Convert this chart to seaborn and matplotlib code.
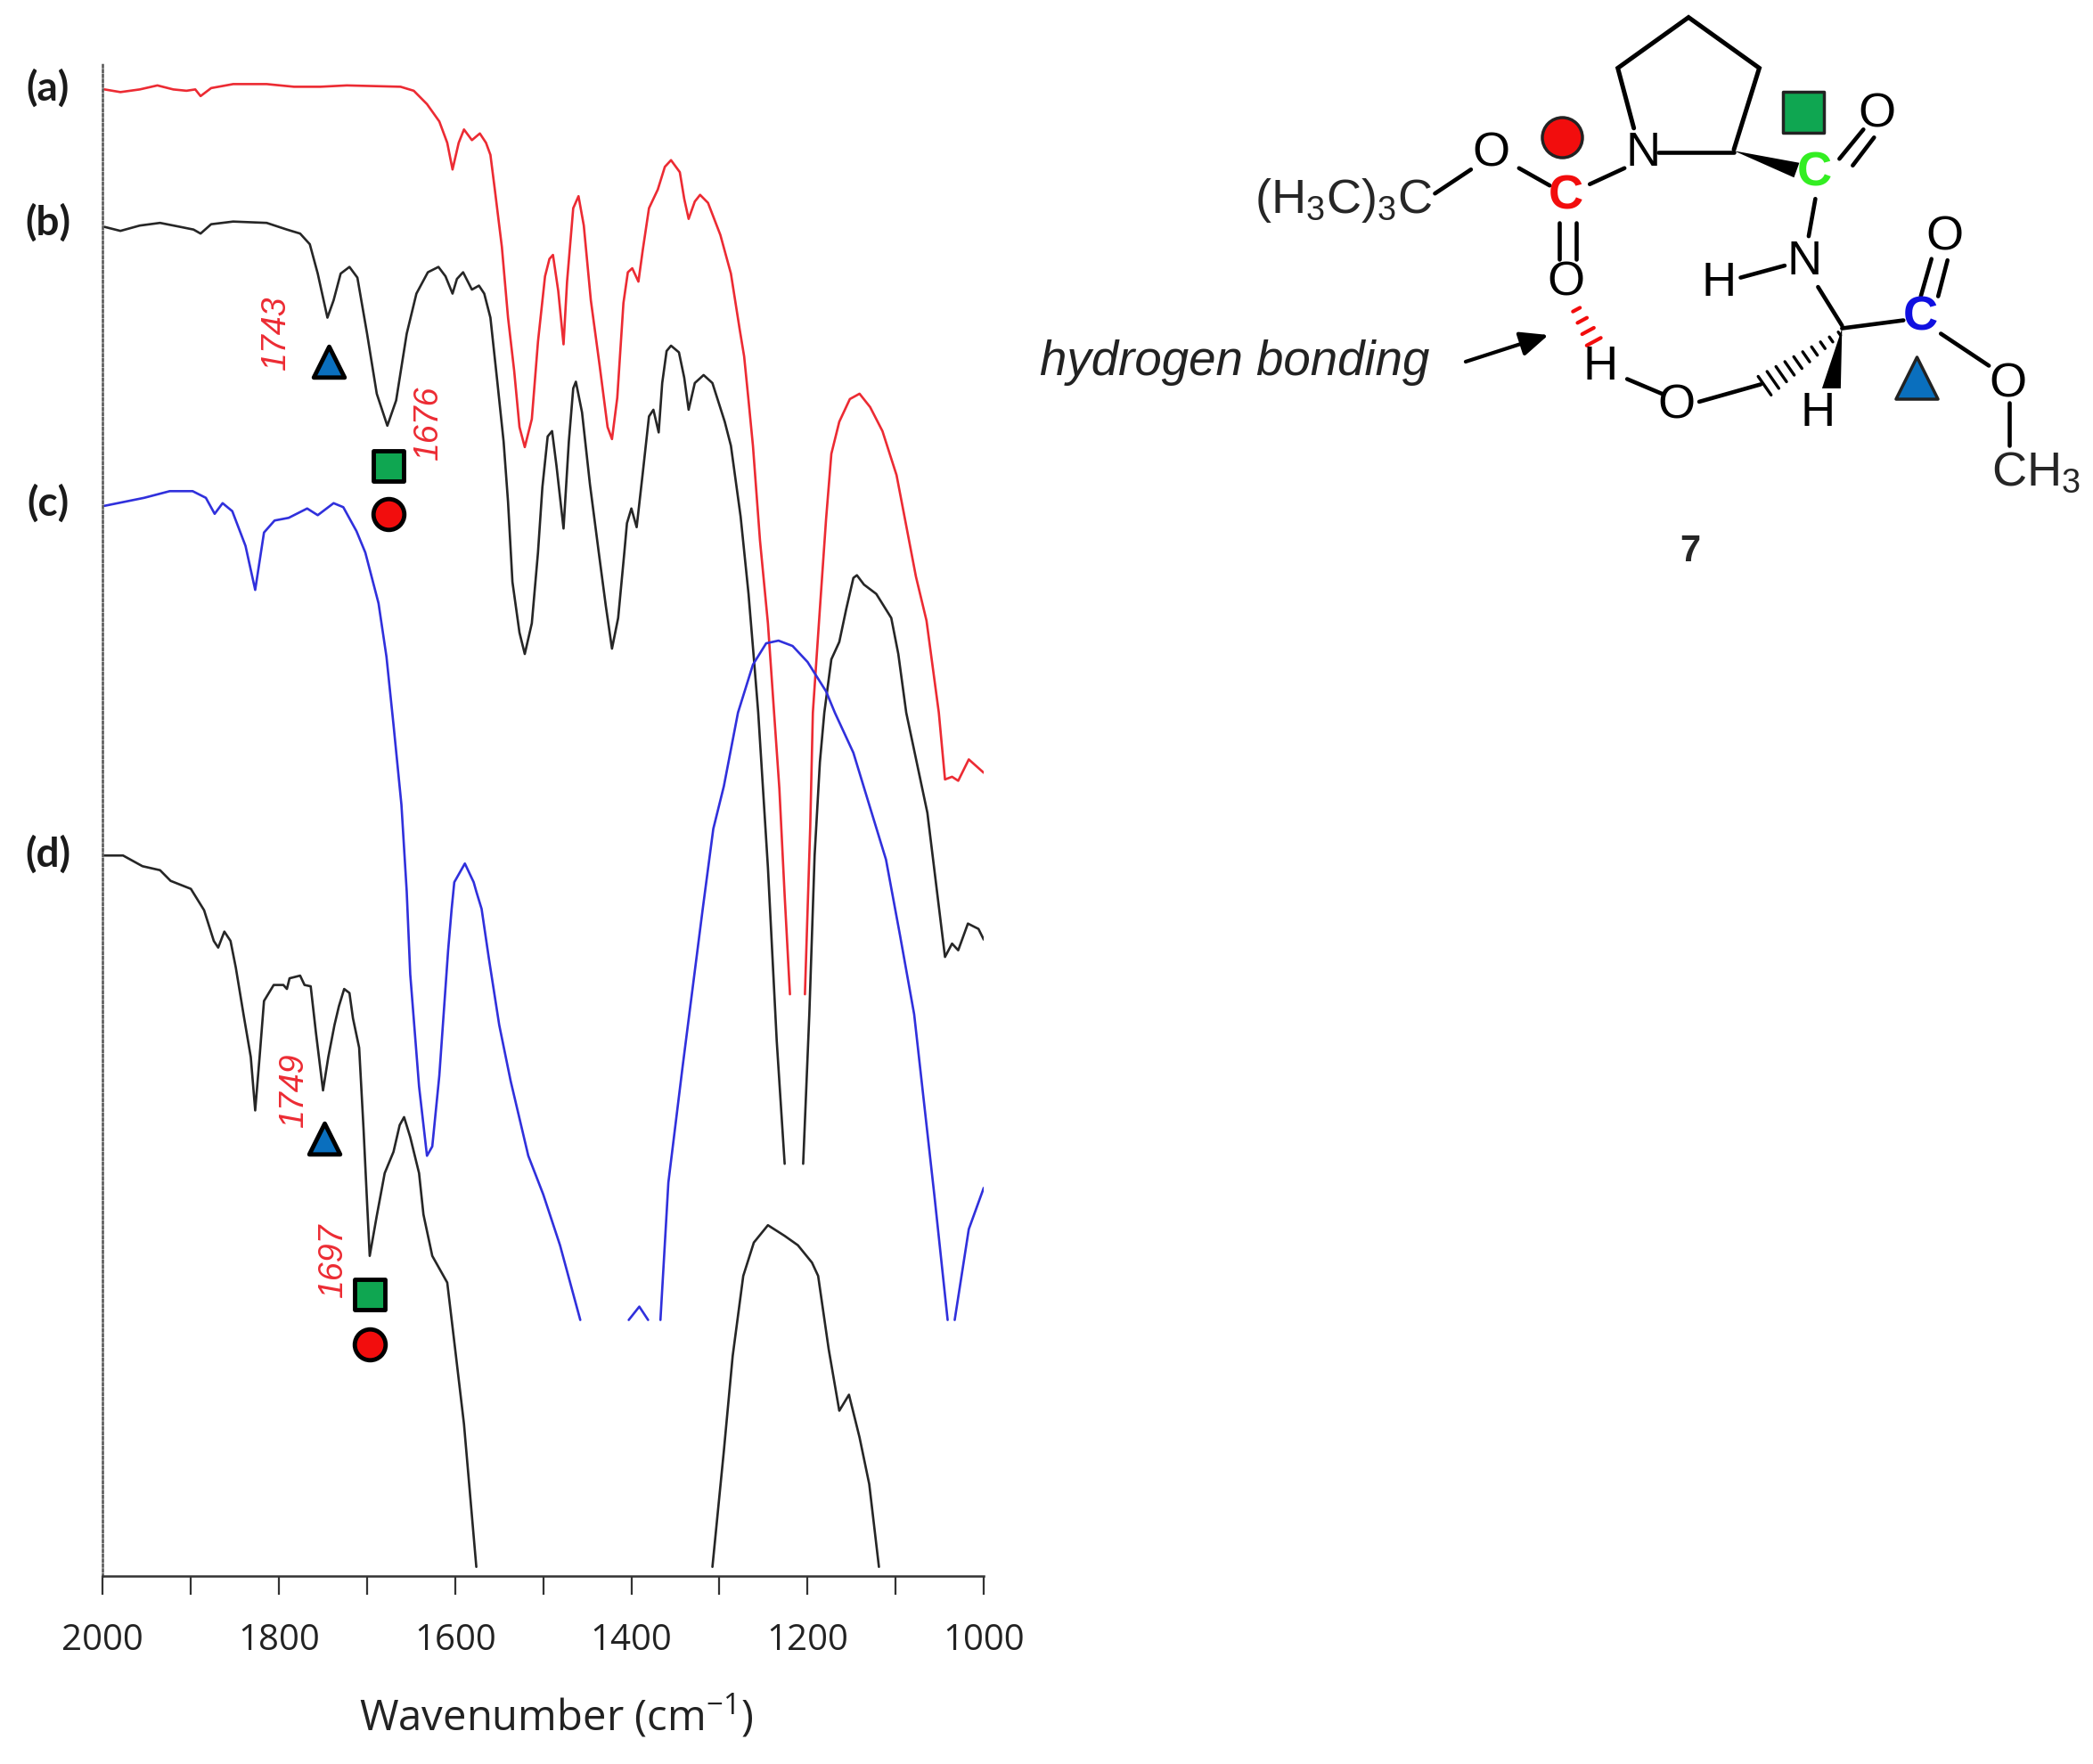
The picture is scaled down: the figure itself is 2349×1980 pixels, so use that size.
"""
FTIR spectra (a)-(d) of compound 7 with its hydrogen bonded structure.
Usage: python plot.py
"""
import matplotlib.pyplot as plt
from matplotlib.patches import Polygon
import seaborn as sns
import pandas as pd

# Traces. Strong bands are cut off, so a trace can have several parts.
a_wn_1 = [1998, 1980, 1958, 1938, 1920, 1905, 1895, 1889, 1877, 1852, 1814, 1783, 1753, 1723, 1662, 1647, 1632,
          1618, 1609, 1603, 1596, 1590, 1581, 1572, 1565, 1560, 1555, 1547, 1540, 1533, 1527, 1521, 1513, 1506,
          1498, 1493, 1489, 1483, 1477, 1473, 1466, 1460, 1454, 1446, 1436, 1427, 1422, 1416, 1409, 1404, 1399,
          1392, 1387, 1380, 1370, 1362, 1355, 1345, 1340, 1335, 1328, 1322, 1313, 1299, 1287, 1277, 1272, 1267,
          1262, 1254, 1245, 1238, 1232, 1226, 1220]
a_abs_1 = [1114, 1112, 1114, 1117, 1114, 1113, 1114, 1109, 1115, 1118, 1118, 1116, 1116, 1117, 1116, 1113, 1103,
           1090, 1074, 1054, 1074, 1084, 1076, 1081, 1074, 1065, 1039, 996, 943, 903, 861, 846, 867, 925,
           974, 987, 990, 963, 923, 970, 1025, 1034, 1012, 956, 907, 861, 852, 883, 954, 977, 980,
           970, 994, 1025, 1039, 1056, 1061, 1052, 1032, 1017, 1030, 1035, 1029, 1005, 976, 934, 914, 881,
           847, 776, 714, 647, 590, 510, 436]
a_wn_2 = [1203, 1197, 1194, 1186, 1179, 1173, 1164, 1152, 1141, 1129, 1115, 1099, 1090, 1077, 1065, 1051, 1044,
          1036, 1029, 1017, 1000]
a_abs_2 = [436, 561, 647, 725, 792, 841, 865, 882, 886, 876, 858, 825, 794, 749, 716, 647, 597,
           599, 596, 612, 602]

b_wn_1 = [1998, 1980, 1958, 1935, 1912, 1897, 1889, 1877, 1852, 1814, 1791, 1776, 1765, 1756, 1745, 1738, 1730,
          1720, 1711, 1700, 1689, 1677, 1667, 1655, 1644, 1631, 1619, 1611, 1603, 1598, 1591, 1581, 1573, 1567,
          1560, 1552, 1545, 1540, 1535, 1527, 1521, 1513, 1506, 1501, 1495, 1490, 1485, 1477, 1471, 1466, 1463,
          1456, 1447, 1437, 1429, 1422, 1415, 1408, 1405, 1400, 1394, 1387, 1380, 1375, 1369, 1365, 1360, 1355,
          1346, 1340, 1335, 1328, 1318, 1308, 1294, 1287, 1276, 1267, 1260, 1256, 1245, 1235, 1226]
b_abs_1 = [1011, 1008, 1012, 1014, 1011, 1009, 1006, 1013, 1015, 1014, 1009, 1006, 998, 976, 943, 956, 976,
           981, 973, 931, 886, 862, 881, 931, 961, 977, 981, 974, 961, 972, 977, 964, 967, 961,
           943, 894, 850, 805, 745, 707, 691, 714, 767, 816, 854, 858, 832, 785, 850, 890, 895,
           872, 818, 767, 727, 695, 718, 767, 789, 800, 786, 827, 869, 874, 857, 894, 918, 922,
           917, 898, 874, 894, 900, 894, 865, 847, 794, 736, 680, 647, 531, 401, 309]
b_wn_2 = [1205, 1198, 1192, 1186, 1181, 1173, 1164, 1156, 1148, 1144, 1136, 1122, 1105, 1097, 1088, 1064, 1044,
          1036, 1029, 1018, 1006, 1000]
b_abs_2 = [309, 421, 540, 610, 647, 687, 700, 725, 748, 750, 743, 736, 718, 691, 647, 572, 464,
           474, 469, 489, 485, 477]

c_wn_1 = [1998, 1953, 1924, 1898, 1883, 1873, 1864, 1853, 1838, 1827, 1817, 1805, 1789, 1768, 1756, 1738, 1727,
          1712, 1702, 1687, 1678, 1670, 1661, 1655, 1651, 1641, 1632, 1626, 1618, 1608, 1604, 1601, 1589, 1579,
          1576, 1570, 1562, 1550, 1537, 1517, 1500, 1481, 1458]
c_abs_1 = [802, 808, 813, 813, 808, 796, 804, 798, 772, 739, 782, 791, 793, 800, 795, 804, 801,
           783, 767, 729, 689, 638, 578, 513, 451, 367, 315, 322, 375, 469, 500, 520, 534, 520,
           513, 500, 464, 413, 371, 315, 286, 248, 192]
c_wn_2 = [1403, 1391, 1381]
c_abs_2 = [192, 202, 192]
c_wn_3 = [1367, 1358, 1342, 1319, 1307, 1295, 1279, 1262, 1247, 1233, 1217, 1200, 1179, 1169, 1148, 1130, 1111,
          1095, 1079, 1056, 1041]
c_abs_3 = [192, 295, 381, 500, 560, 592, 647, 683, 699, 701, 697, 685, 663, 647, 617, 578, 537,
           480, 421, 285, 192]
c_wn_4 = [1033, 1017, 1000]
c_abs_4 = [192, 260, 291]

d_wn_1 = [1998, 1977, 1955, 1935, 1923, 1900, 1885, 1874, 1869, 1862, 1855, 1849, 1840, 1832, 1827, 1822, 1817,
          1806, 1795, 1791, 1788, 1776, 1771, 1764, 1758, 1750, 1744, 1737, 1732, 1726, 1720, 1716, 1709, 1704,
          1700, 1697, 1689, 1680, 1670, 1663, 1658, 1651, 1641, 1636, 1626, 1609, 1600, 1590, 1576]
d_abs_1 = [540, 540, 532, 529, 521, 515, 499, 476, 471, 483, 476, 456, 420, 389, 349, 389, 431,
           443, 443, 440, 448, 450, 443, 442, 407, 364, 389, 413, 427, 440, 437, 418, 396, 335,
           280, 240, 270, 302, 318, 338, 344, 329, 302, 271, 240, 220, 170, 114, 7]
d_wn_2 = [1308, 1295, 1285, 1273, 1261, 1245, 1226, 1211, 1195, 1188, 1176, 1164, 1153, 1141, 1130, 1119]
d_abs_2 = [7, 94, 165, 225, 250, 263, 255, 248, 235, 225, 170, 124, 136, 104, 69, 7]

# Band assignments: wavenumber, height of the symbols under the band, printed label
triangle_wn = [1743, 1749]
triangle_abs = [910, 328]
square_wn = [1676, 1697]
square_abs = [832, 211]
circle_wn = [1676, 1697]
circle_abs = [796, 174]
peak_labels = ["1743", "1676", "1749", "1697"]
trace_labels = ["(a)", "(b)", "(c)", "(d)"]
x_ticks = [2000, 1800, 1600, 1400, 1200, 1000]
x_minor_ticks = [1900, 1700, 1500, 1300, 1100]

RED = "#EC2B33"
BLUE = "#3030DC"
DARK = "#262626"
SYM_RED = "#F20D0D"
SYM_GREEN = "#0FA651"
SYM_BLUE = "#0A6FBE"

# The picture is laid out in a 1568 wide frame, scaled up on saving
W, H = 1568.0, 1321.7


def build_frame():
    parts = [
        ("a", 1, a_wn_1, a_abs_1), ("a", 2, a_wn_2, a_abs_2),
        ("b", 3, b_wn_1, b_abs_1), ("b", 4, b_wn_2, b_abs_2),
        ("c", 5, c_wn_1, c_abs_1), ("c", 6, c_wn_2, c_abs_2),
        ("c", 7, c_wn_3, c_abs_3), ("c", 8, c_wn_4, c_abs_4),
        ("d", 9, d_wn_1, d_abs_1), ("d", 10, d_wn_2, d_abs_2),
    ]
    frames = []
    for trace, segment, wn, ab in parts:
        frames.append(pd.DataFrame({"wavenumber": wn, "absorbance": ab, "trace": trace, "segment": segment}))
    return pd.concat(frames, ignore_index=True)


def draw_spectra(ax):
    df = build_frame()
    sns.lineplot(data=df, x="wavenumber", y="absorbance", hue="trace", units="segment", estimator=None,
                 palette={"a": RED, "b": DARK, "c": BLUE, "d": DARK}, linewidth=1.9, sort=False,
                 legend=False, ax=ax)
    ax.set_xlim(2000, 1000)
    ax.set_ylim(0, 1133)
    ax.set_xticks(x_ticks)
    ax.set_xticks(x_minor_ticks, minor=True)
    ax.set_yticks([])
    ax.tick_params(axis="x", which="both", direction="out", length=15, width=1.6, color="#333333", bottom=True)
    ax.tick_params(axis="x", which="major", labelsize=29, pad=23, labelcolor="#222222")
    ax.set_xlabel("Wavenumber (cm$^{-1}$)", fontsize=34, color="#222222", labelpad=27, x=0.515)
    ax.set_ylabel("")
    sns.despine(ax=ax, top=True, right=True)
    ax.spines["bottom"].set_linewidth(1.8)
    ax.spines["bottom"].set_color("#333333")
    ax.spines["left"].set_linewidth(1.8)
    ax.spines["left"].set_color("#555555")
    ax.spines["left"].set_linestyle((0, (1, 1.2)))

    edge = {"edgecolor": "black", "linewidth": 3.5, "clip_on": False, "zorder": 5, "ax": ax, "legend": False}
    sns.scatterplot(x=triangle_wn, y=triangle_abs, marker="^", s=620, color=SYM_BLUE, **edge)
    sns.scatterplot(x=square_wn, y=square_abs, marker="s", s=600, color=SYM_GREEN, **edge)
    sns.scatterplot(x=circle_wn, y=circle_abs, marker="o", s=620, color=SYM_RED, **edge)


def bond(ov, x0, y0, x1, y1, color="black", lw=3.3):
    ov.plot([x0, x1], [y0, y1], color=color, lw=lw, solid_capstyle="round")


def hash_bond(ov, x0, y0, x1, y1, n, w0, w1, color="black", lw=2.4):
    # short strokes across the bond, getting wider along it
    dx, dy = x1 - x0, y1 - y0
    length = (dx ** 2 + dy ** 2) ** 0.5
    nx, ny = -dy / length, dx / length
    for i in range(n):
        t = i / (n - 1)
        half = (w0 + (w1 - w0) * t) / 2
        cx, cy = x0 + dx * t, y0 + dy * t
        ov.plot([cx - nx * half, cx + nx * half], [cy - ny * half, cy + ny * half], color=color, lw=lw)


def atom(ov, x, y, label, color="black", weight="normal", size=39):
    ov.text(x, y, label, color=color, fontweight=weight, fontsize=size, ha="center", va="center",
            family="Liberation Sans")


def draw_structure(ov):
    # ring
    ring_x = [1224, 1212, 1265, 1318, 1299]
    ring_y = [96, 51, 13, 51, 112]
    ov.plot(ring_x, ring_y, color="black", lw=3.6, solid_joinstyle="miter")

    bond(ov, 1075, 145, 1102, 127)
    bond(ov, 1138, 126, 1161, 139)
    bond(ov, 1191, 138, 1217, 126)
    bond(ov, 1168, 167, 1168, 194)
    bond(ov, 1181, 167, 1181, 194)
    bond(ov, 1242, 114, 1299, 114)
    bond(ov, 1378, 119, 1396, 97)
    bond(ov, 1388, 124, 1404, 103)
    bond(ov, 1360, 149, 1355, 177)
    bond(ov, 1304, 208, 1337, 199)
    bond(ov, 1362, 215, 1380, 244)
    bond(ov, 1380, 246, 1426, 240)
    bond(ov, 1439, 222, 1447, 194)
    bond(ov, 1452, 222, 1459, 195)
    bond(ov, 1454, 250, 1490, 274)
    bond(ov, 1505, 302, 1505, 334)
    bond(ov, 1319, 288, 1273, 301)
    bond(ov, 1219, 284, 1245, 295)

    ov.add_patch(Polygon([(1299, 113), (1348, 122), (1344, 133)], closed=True, color="black", lw=0))
    ov.add_patch(Polygon([(1380, 246), (1365, 291), (1379, 291)], closed=True, color="black", lw=0))
    hash_bond(ov, 1378, 250, 1322, 289, 10, 3, 17)
    hash_bond(ov, 1181, 232, 1194, 256, 4, 6, 12, color=SYM_RED, lw=3.0)

    ov.annotate("", xy=(1160, 251), xytext=(1098, 271),
                arrowprops=dict(arrowstyle="-|>,head_length=1.6,head_width=0.7", color="black", lw=3,
                                shrinkA=0, shrinkB=0))

    for x, y, label in [(1117, 115, "O"), (1231, 115, "N"), (1406, 86, "O"), (1352, 196, "N"),
                        (1288, 212, "H"), (1173, 212, "O"), (1199, 275, "H"), (1256, 304, "O"),
                        (1362, 310, "H"), (1457, 178, "O"), (1504, 288, "O")]:
        atom(ov, x, y, label)
    atom(ov, 1173, 147, "C", color=SYM_RED, weight="bold")
    atom(ov, 1359, 130, "C", color="#33EE22", weight="bold")
    atom(ov, 1439, 238, "C", color="#1010E0", weight="bold")
    ov.text(1073, 150, "(H$_3$C)$_3$C", fontsize=39, ha="right", va="center", family="Liberation Sans")
    ov.text(1492, 354, "CH$_3$", fontsize=39, ha="left", va="center", family="Liberation Sans")
    ov.text(1266, 413, "7", fontsize=30, fontweight="bold", ha="center", va="center", family="Liberation Sans")
    ov.text(779, 272, "hydrogen bonding", fontsize=39.3, style="italic", ha="left", va="center",
            color="#222222", family="Liberation Sans")

    ov.scatter([1170], [103], marker="o", s=1050, color=SYM_RED, edgecolor="#222222", linewidth=2.5)
    ov.scatter([1351], [84], marker="s", s=1050, color=SYM_GREEN, edgecolor="#222222", linewidth=2.5)
    ov.scatter([1436], [283], marker="^", s=1150, color=SYM_BLUE, edgecolor="#222222", linewidth=2.5)


def draw_labels(ov):
    for (x, y), label in zip([(36, 66), (36, 167), (36, 377), (36, 640)], trace_labels):
        ov.text(x, y, label, fontsize=33, fontweight="bold", ha="center", va="center", family="Lato",
                color="#1a1a1a")
    for (x, y), label in zip([(207, 250), (321, 317), (220, 817), (250, 945)], peak_labels):
        ov.text(x, y, label, fontsize=27, style="italic", rotation=90, ha="center", va="center", color=RED,
                family="Liberation Sans")


def main():
    sns.set_theme(style="white")
    plt.rcParams["font.family"] = ["Open Sans", "DejaVu Sans"]
    plt.rcParams["mathtext.default"] = "regular"

    fig = plt.figure(figsize=(23.49, 19.8), dpi=100)
    left, right, top, bottom = 77, 737, 48, 1181
    ax = fig.add_axes([left / W, 1 - bottom / H, (right - left) / W, (bottom - top) / H])
    draw_spectra(ax)

    ov = fig.add_axes([0, 0, 1, 1], zorder=10)
    ov.set_xlim(0, W)
    ov.set_ylim(H, 0)
    ov.axis("off")
    draw_structure(ov)
    draw_labels(ov)

    fig.savefig("out.png", dpi=100, facecolor="white")


if __name__ == "__main__":
    main()
